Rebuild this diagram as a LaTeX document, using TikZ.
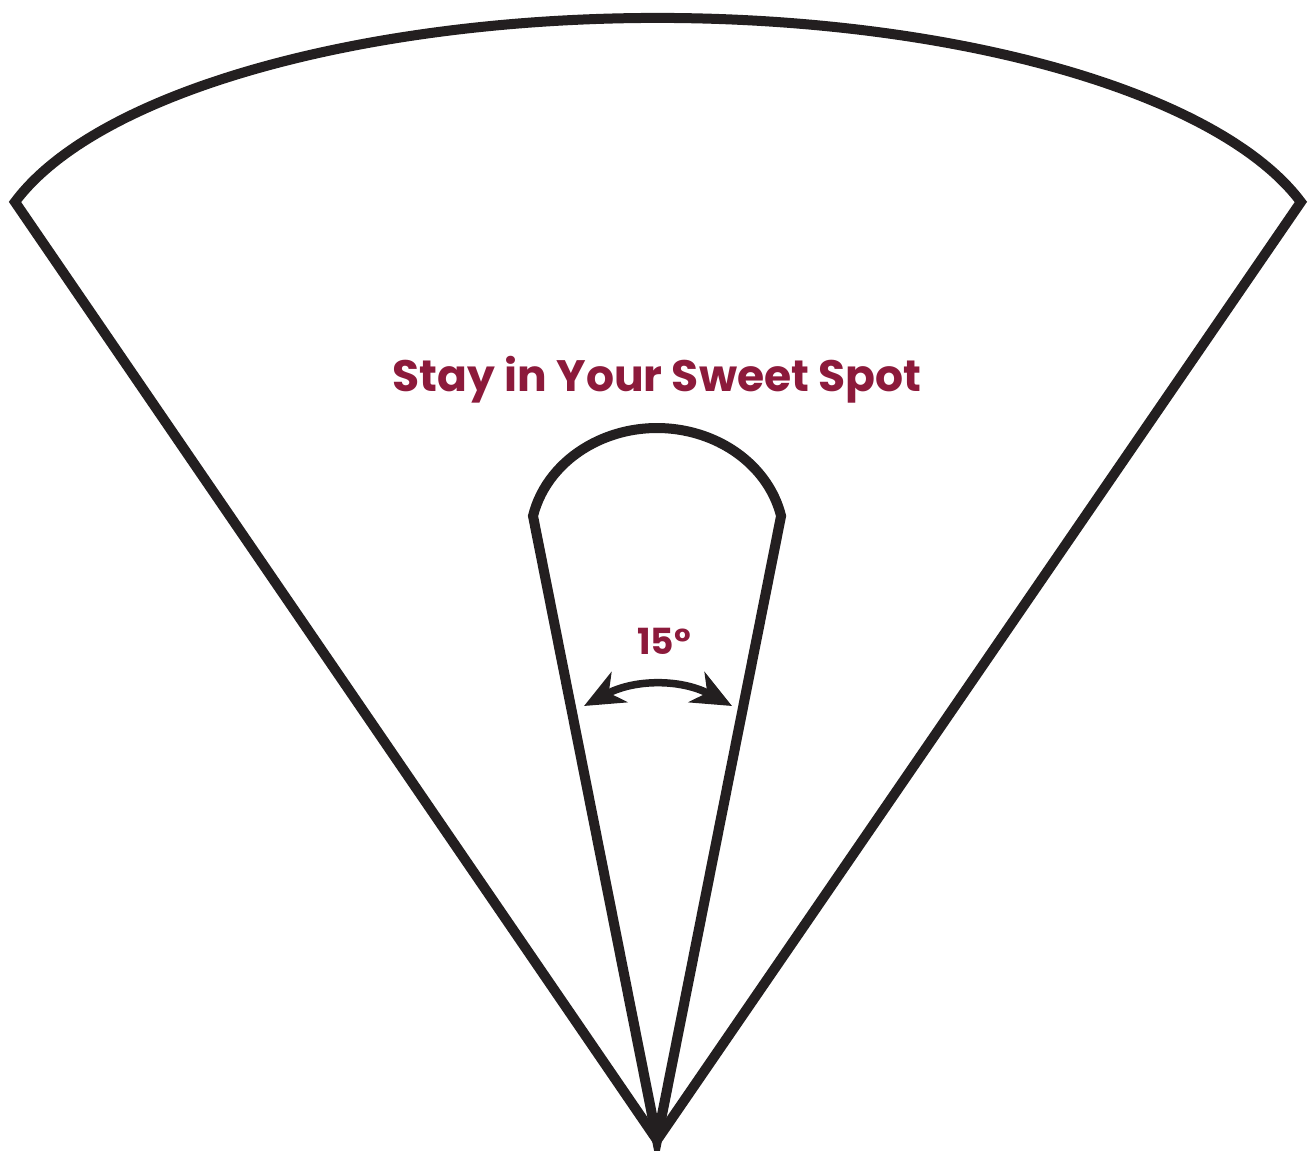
\documentclass[tikz,border=0pt]{standalone}
\usepackage{fontspec}
\setmainfont{Poppins}
\usepackage{xcolor}
\usetikzlibrary{arrows.meta, positioning}
\definecolor{ink}{HTML}{231F20}
\definecolor{maroon}{HTML}{8C1A3B}
\tikzset{
  fan/.style={draw=ink, line width=5pt, line join=miter},
  swing/.style={{Stealth[length=20pt, width=17pt, inset=6pt]}-{Stealth[length=20pt, width=17pt, inset=6pt]}, draw=ink, line width=3.75pt},
  heading/.style={text=maroon, font=\fontsize{22}{26}\selectfont\bfseries, inner sep=0pt},
  angle label/.style={text=maroon, font=\fontsize{18}{21}\selectfont\bfseries, inner sep=0pt},
}

\begin{document}
\begin{tikzpicture}[x=0.5pt, y=0.5pt]
  \useasboundingbox (0,0) rectangle (1309,1150);
  \coordinate (apex) at (657,10);
  \coordinate (left) at (15,948);
  \coordinate (right) at (1301,948);
  \coordinate (coneL) at (533,634);
  \coordinate (coneR) at (781,634);
  \coordinate (swingL) at (584,444);
  \coordinate (swingR) at (732,444);
  % outer range
  \draw[fan] (apex) -- (left) arc[start angle=164.26, end angle=15.74, x radius=668, y radius=252.5] -- cycle;
  % sweet spot cone
  \draw[fan] (apex) -- (coneL) arc[start angle=167.6, end angle=12.4, x radius=127, y radius=112] -- cycle;
  \draw[swing] (swingL) to[bend left=28] (swingR);
  \node[heading] (title) at (657,770) {Stay in Your Sweet Spot};
  \node[angle label] (deg) at (664,509) {15°};
\end{tikzpicture}
\end{document}
